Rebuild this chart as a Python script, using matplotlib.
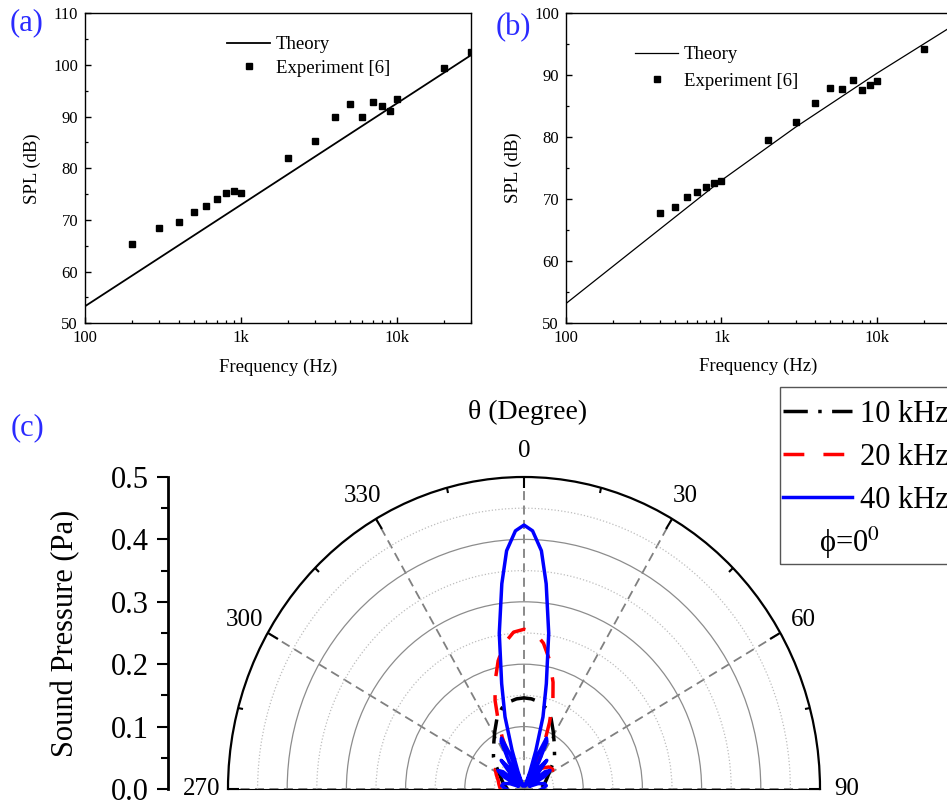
import numpy as np
import matplotlib
matplotlib.use('Agg')
import matplotlib.pyplot as plt
from matplotlib.ticker import (FixedLocator, NullFormatter, LogLocator,
                               MultipleLocator, FormatStrFormatter)
from matplotlib.patches import Rectangle

plt.rcParams['font.family'] = ['Liberation Serif', 'DejaVu Serif']
plt.rcParams['mathtext.fontset'] = 'stix'

# ---------------- data ----------------
# panel (a)
a_theory_freq = [100, 30000]
a_theory_spl = [53.3, 101.9]
a_exp_freq = [200, 300, 400, 500, 600, 700, 800, 900, 1000, 2000, 3000, 4000,
              5000, 6000, 7000, 8000, 9000, 10000, 20000, 30000]
a_exp_spl = [65.4, 68.4, 69.6, 71.5, 72.8, 74.1, 75.2, 75.7, 75.2, 81.9, 85.3,
             89.9, 92.5, 89.9, 92.8, 92.1, 91.0, 93.5, 99.5, 102.5]

# panel (b)
b_theory_freq = [100, 300, 1000, 3000, 10000, 30000]
b_theory_spl = [53.1, 62.6, 73.0, 81.6, 90.3, 97.8]
b_exp_freq = [400, 500, 600, 700, 800, 900, 1000, 2000, 3000, 4000, 5000,
              6000, 7000, 8000, 9000, 10000, 20000]
b_exp_spl = [67.8, 68.75, 70.3, 71.1, 72.0, 72.6, 72.85, 79.5, 82.4, 85.45,
             88.0, 87.7, 89.3, 87.6, 88.4, 89.1, 94.3]

freq_ticks = [100, 1000, 10000]
freq_tick_labels = ['100', '1k', '10k']

# panel (c): directivity, angle in degrees, sound pressure in Pa
theta_10k = [-90, -85, -80, -74, -68, -62, -56, -50, -45, -40, -34, -28, -22,
             -16, -10, -5, 0, 5, 10, 16, 22, 28, 34, 40, 45, 50, 56, 62, 68,
             74, 80, 85, 90]
p_10k = [0.028, 0.030, 0.033, 0.037, 0.041, 0.046, 0.053, 0.064, 0.073, 0.080,
         0.091, 0.105, 0.122, 0.135, 0.142, 0.145, 0.146, 0.145, 0.142, 0.135,
         0.122, 0.105, 0.091, 0.080, 0.073, 0.064, 0.053, 0.046, 0.041, 0.037,
         0.033, 0.030, 0.028]

theta_20k = [-90, -80, -72, -64, -57, -50, -42, -35, -30, -28, -26, -24, -22,
             -19, -16, -12, -8, -4, 0, 4, 8, 12, 16, 19, 22, 24, 26, 28, 30,
             35, 42, 50, 57, 64, 72, 80, 90]
p_20k = [0.040, 0.043, 0.046, 0.052, 0.058, 0.055, 0.045, 0.030, 0.015, 0.030,
         0.060, 0.090, 0.115, 0.150, 0.178, 0.210, 0.236, 0.252, 0.256, 0.252,
         0.236, 0.210, 0.178, 0.150, 0.115, 0.090, 0.060, 0.030, 0.015, 0.030,
         0.045, 0.055, 0.058, 0.052, 0.046, 0.043, 0.040]

theta_40k = [-90, -86, -82, -76, -70, -65, -60, -56, -52, -48, -44, -40, -36,
             -33, -30, -27, -25, -23, -21.5, -20, -18, -15.5, -12.6, -9.5,
             -6.5, -4.4, -2, 0, 2, 4.4, 6.5, 9.5, 12.6, 15.5, 18, 20, 21.5, 23,
             25, 27, 30, 33, 36, 40, 44, 48, 52, 56, 60, 65, 70, 76, 82, 86, 90]
p_40k = [0.030, 0.034, 0.038, 0.036, 0.025, 0.010, 0.040, 0.053, 0.045, 0.010,
         0.030, 0.060, 0.040, 0.010, 0.050, 0.085, 0.090, 0.060, 0.005, 0.030,
         0.065, 0.120, 0.173, 0.253, 0.331, 0.383, 0.414, 0.423, 0.414, 0.383,
         0.331, 0.253, 0.173, 0.120, 0.065, 0.030, 0.005, 0.060, 0.090, 0.085,
         0.050, 0.010, 0.040, 0.060, 0.030, 0.010, 0.045, 0.053, 0.040, 0.010,
         0.025, 0.036, 0.038, 0.034, 0.030]

theta_ticks = [-90, -60, -30, 0, 30, 60, 90]
theta_labels = ['270', '300', '330', '0', '30', '60', '90']
theta_minor = [-75, -45, -15, 15, 45, 75]
r_major_grid = [0.1, 0.2, 0.3, 0.4]
r_minor_grid = [0.05, 0.15, 0.25, 0.35, 0.45]

# ---------------- figure ----------------
W, H = 947, 807
fig = plt.figure(figsize=(W / 100, H / 100), dpi=100)
PANEL_BLUE = '#2b2bff'


def fx(px):
    return px / W


def fy(py):
    return 1 - py / H


def style_spl_axes(ax, ymin, ymax):
    ax.set_xscale('log')
    ax.set_xlim(100, 30000)
    ax.set_ylim(ymin, ymax)
    ax.set_xticks(freq_ticks)
    ax.set_xticklabels(freq_tick_labels)
    ax.xaxis.set_minor_locator(LogLocator(base=10, subs=np.arange(2, 10)))
    ax.xaxis.set_minor_formatter(NullFormatter())
    ax.yaxis.set_major_locator(MultipleLocator(10))
    ax.yaxis.set_minor_locator(MultipleLocator(5))
    ax.tick_params(which='major', direction='in', length=4.5, width=1.0,
                   labelsize=12, top=False, right=False, pad=5)
    ax.tick_params(which='minor', direction='in', length=2.5, width=0.9,
                   top=False, right=False)
    for s in ax.spines.values():
        s.set_linewidth(1.0)
    ax.set_xlabel('Frequency (Hz)', fontsize=13.5, labelpad=9)
    ax.set_ylabel('SPL (dB)', fontsize=13.5, labelpad=9)


# panel (a)
axa = fig.add_axes([fx(85), fy(323.3), fx(386), 310 / H])
axa.plot(a_theory_freq, a_theory_spl, color='black', lw=1.3, label='Theory')
axa.plot(a_exp_freq, a_exp_spl, linestyle='none', marker='s', ms=5,
         color='black', label='Experiment [6]')
style_spl_axes(axa, 50, 110)
axa.legend(loc='upper left', bbox_to_anchor=(fx(227), fy(36)),
           bbox_transform=fig.transFigure, frameon=False, fontsize=13.5,
           handlelength=2.3, handletextpad=0.3, labelspacing=0.36,
           borderpad=0, borderaxespad=0)

# panel (b)
axb = fig.add_axes([fx(566), fy(322.7), fx(385), 309.4 / H])
axb.plot(b_theory_freq, b_theory_spl, color='black', lw=0.9, label='Theory')
axb.plot(b_exp_freq, b_exp_spl, linestyle='none', marker='s', ms=5,
         color='black', label='Experiment [6]')
style_spl_axes(axb, 50, 100)
axb.legend(loc='upper left', bbox_to_anchor=(fx(635), fy(46)),
           bbox_transform=fig.transFigure, frameon=False, fontsize=13.5,
           handlelength=2.3, handletextpad=0.3, labelspacing=0.51,
           borderpad=0, borderaxespad=0)

# panel (c) polar
axp = fig.add_axes([fx(228), -138 / H, fx(592), 624 / H], projection='polar')
axp.set_theta_zero_location('N')
axp.set_theta_direction(-1)
axp.set_thetamin(-90)
axp.set_thetamax(90)
axp.set_ylim(0, 0.5)
axp.set_aspect('auto')

l10, = axp.plot(np.deg2rad(theta_10k), p_10k, color='black', lw=2.5,
                linestyle=(0, (7, 3, 1, 3)), label='10 kHz')
l20, = axp.plot(np.deg2rad(theta_20k), p_20k, color='#ff0000', lw=2.5,
                linestyle=(0, (6, 5.5)), label='20 kHz')
l40, = axp.plot(np.deg2rad(theta_40k), p_40k, color='#0000ff', lw=2.5,
                label='40 kHz')

axp.set_rticks(r_major_grid)
axp.yaxis.set_minor_locator(FixedLocator(r_minor_grid))
axp.yaxis.set_minor_formatter(NullFormatter())
axp.set_yticklabels([])
axp.tick_params(axis='y', which='both', length=0)
axp.set_thetagrids(theta_ticks, labels=theta_labels)
axp.xaxis.set_minor_locator(FixedLocator(np.deg2rad(theta_minor)))
axp.xaxis.set_minor_formatter(NullFormatter())
axp.tick_params(axis='x', which='major', direction='in', length=8, width=1.5,
                labelsize=18, pad=12, top=True, bottom=False)
axp.tick_params(axis='x', which='minor', direction='in', length=4, width=1.5,
                top=True, bottom=False)
axp.xaxis.grid(True, which='major', linestyle=(0, (5, 3)), color='#808080',
               lw=1.3)
axp.yaxis.grid(True, which='major', linestyle='-', color='#8c8c8c', lw=0.9)
axp.yaxis.grid(True, which='minor', linestyle=':', color='#bdbdbd', lw=0.9)
axp.spines['polar'].set_linewidth(1.6)
axp.spines['polar'].set_color('black')
for s in ('start', 'end', 'inner'):
    axp.spines[s].set_visible(False)

# separate pressure scale on the left
axy = fig.add_axes([fx(168), 18 / H, 0.02, 312 / H])
axy.set_ylim(0, 0.5)
for s in ('top', 'right', 'bottom'):
    axy.spines[s].set_visible(False)
axy.spines['left'].set_linewidth(2)
axy.patch.set_visible(False)
axy.set_xticks([])
axy.yaxis.set_major_locator(MultipleLocator(0.1))
axy.yaxis.set_minor_locator(MultipleLocator(0.05))
axy.yaxis.set_major_formatter(FormatStrFormatter('%.1f'))
axy.tick_params(axis='y', which='major', direction='out', length=8, width=1.5,
                labelsize=22, pad=6)
axy.tick_params(axis='y', which='minor', direction='out', length=5, width=1.5)
axy.set_ylabel('Sound Pressure (Pa)', fontsize=22, labelpad=22)

fig.text(fx(528), fy(412), 'θ (Degree)', fontsize=20, ha='center', va='center')

# legend for (c)
fig.legend(handles=[l10, l20, l40], loc='upper left',
           bbox_to_anchor=(fx(782.7), fy(400)), bbox_transform=fig.transFigure,
           frameon=False, fontsize=22, handlelength=2.26, handletextpad=0.26,
           labelspacing=0.46, borderpad=0, borderaxespad=0)
fig.add_artist(Rectangle((fx(780), fy(564)), fx(180), 177 / H,
                         transform=fig.transFigure, fill=False,
                         edgecolor='#555555', lw=1.0))
fig.text(fx(849.5), fy(543), 'ϕ=0$^0$', fontsize=22, ha='center',
         va='center')

# panel labels
fig.text(fx(27), fy(23), '(a)', color=PANEL_BLUE, fontsize=22, ha='center', va='center')
fig.text(fx(513), fy(28), '(b)', color=PANEL_BLUE, fontsize=22, ha='center', va='center')
fig.text(fx(27), fy(428), '(c)', color=PANEL_BLUE, fontsize=22, ha='center', va='center')

fig.savefig('out.png', dpi=100)
